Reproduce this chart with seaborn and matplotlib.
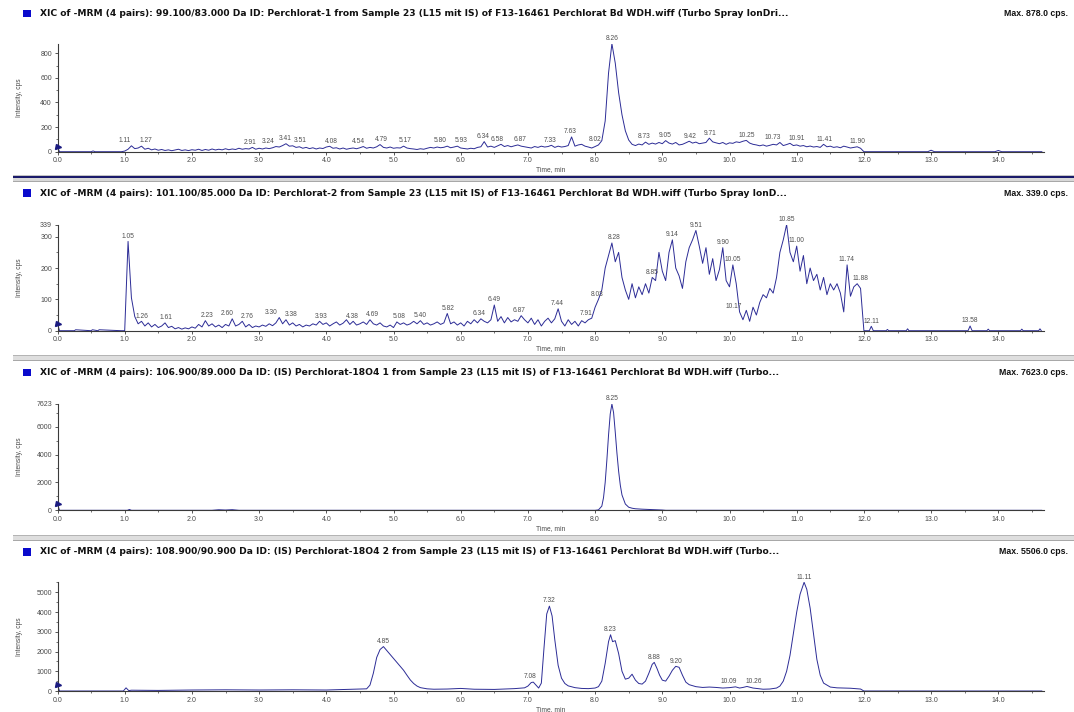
import numpy as np
import pandas as pd
import matplotlib
matplotlib.use("Agg")
import matplotlib.pyplot as plt
from matplotlib.patches import Rectangle
from matplotlib.ticker import FixedLocator, MultipleLocator
import seaborn as sns

# ---------------- data ----------------
titles = [
    "XIC of -MRM (4 pairs): 99.100/83.000 Da ID: Perchlorat-1 from Sample 23 (L15 mit IS) of F13-16461 Perchlorat Bd WDH.wiff (Turbo Spray IonDri...",
    "XIC of -MRM (4 pairs): 101.100/85.000 Da ID: Perchlorat-2 from Sample 23 (L15 mit IS) of F13-16461 Perchlorat Bd WDH.wiff (Turbo Spray IonD...",
    "XIC of -MRM (4 pairs): 106.900/89.000 Da ID: (IS) Perchlorat-18O4 1 from Sample 23 (L15 mit IS) of F13-16461 Perchlorat Bd WDH.wiff (Turbo...",
    "XIC of -MRM (4 pairs): 108.900/90.900 Da ID: (IS) Perchlorat-18O4 2 from Sample 23 (L15 mit IS) of F13-16461 Perchlorat Bd WDH.wiff (Turbo...",
]
max_texts = ["Max. 878.0 cps.", "Max. 339.0 cps.", "Max. 7623.0 cps.", "Max. 5506.0 cps."]
y_max = [878, 339, 7623, 5506]
y_ticks = [[0, 200, 400, 600, 800],
           [0, 100, 200, 300, 339],
           [0, 2000, 4000, 6000, 7623],
           [0, 1000, 2000, 3000, 4000, 5000]]
y_minor = [100, 50, 1000, 500]
x_ticks = [0.0, 1.0, 2.0, 3.0, 4.0, 5.0, 6.0, 7.0, 8.0, 9.0, 10.0, 11.0, 12.0, 13.0, 14.0]

# Panel 1: 99.1/83.0 -- readings every 0.05 min from 1.00 to 12.00
p1_pre_t = [0.0, 0.03, 0.50, 0.53, 0.56, 0.95]
p1_pre_v = [40, 0, 0, 6, 0, 0]
p1_grid_start, p1_grid_step = 1.00, 0.05
p1_grid_v = [
    5, 20, 48, 25, 30, 45, 20, 28, 15, 22, 12, 18, 10, 15, 8, 14, 20, 10, 15, 9,          # 1.xx
    16, 12, 20, 10, 18, 12, 22, 14, 20, 15, 24, 16, 22, 18, 28, 20, 25, 22, 35, 20,       # 2.xx
    28, 22, 30, 25, 32, 42, 38, 50, 65, 45, 48, 35, 40, 28, 35, 25, 32, 22, 30, 26,       # 3.xx
    38, 44, 28, 32, 22, 30, 20, 26, 30, 24, 32, 42, 28, 35, 30, 40, 58, 35, 30, 38,       # 4.xx
    28, 32, 30, 45, 30, 25, 22, 18, 24, 20, 28, 35, 30, 38, 32, 36, 45, 32, 38, 45,       # 5.xx
    30, 26, 22, 28, 24, 35, 40, 82, 38, 45, 35, 48, 60, 42, 50, 40, 48, 55, 45, 40,       # 6.xx
    35, 30, 42, 35, 45, 38, 42, 52, 35, 45, 38, 42, 50, 120, 45, 55, 60, 45, 38, 30,      # 7.xx
    42, 55, 90, 250, 640, 878, 720, 480, 300, 170, 95, 60, 50, 62, 55, 78, 60, 70, 62, 75,  # 8.xx
    65, 90, 70, 62, 75, 55, 60, 72, 85, 70, 78, 65, 70, 75, 110, 80, 72, 65, 75, 60,      # 9.xx
    72, 68, 80, 75, 85, 92, 70, 60, 55, 48, 55, 45, 52, 60, 55, 75, 50, 58, 68, 50,       # 10.xx
    55, 45, 50, 40, 46, 38, 42, 35, 60, 40, 45, 35, 40, 32, 45, 38, 30, 35, 40, 28,       # 11.xx
    0,                                                                                    # 12.00
]
p1_post_t = [12.05, 12.95, 13.0, 13.05, 13.95, 14.0, 14.05, 14.65]
p1_post_v = [0, 0, 12, 0, 0, 10, 0, 0]
p1_labels = ["1.11", "1.27", "2.91", "3.24", "3.41", "3.51", "4.08", "4.54", "4.79", "5.17",
             "5.80", "5.93", "6.34", "6.58", "6.87", "7.33", "7.63", "8.02", "8.26", "8.73",
             "9.05", "9.42", "9.71", "10.25", "10.73", "10.91", "11.41", "11.90"]

# Panel 2: 101.1/85.0
p2_pre_t = [0.0, 0.03, 0.25, 0.27, 0.50, 0.52, 0.60, 0.62, 0.95]
p2_pre_v = [22, 0, 0, 3, 0, 3, 0, 3, 0]
p2_grid_start, p2_grid_step = 1.00, 0.05
p2_grid_v = [
    0, 285, 105, 45, 22, 30, 15, 25, 12, 20, 10, 15, 25, 10, 14, 6, 10, 5, 9, 6,          # 1.xx
    12, 8, 20, 12, 32, 15, 22, 12, 18, 10, 20, 15, 38, 15, 20, 30, 12, 20, 10, 15,        # 2.xx
    12, 18, 14, 22, 16, 25, 42, 22, 35, 18, 25, 15, 20, 12, 18, 15, 22, 18, 30, 20,       # 3.xx
    25, 15, 22, 28, 18, 24, 35, 20, 30, 18, 22, 28, 20, 35, 22, 18, 25, 15, 12, 18,       # 4.xx
    10, 28, 20, 25, 18, 22, 30, 22, 32, 20, 25, 18, 22, 28, 20, 25, 55, 22, 28, 18,       # 5.xx
    25, 15, 30, 22, 35, 25, 38, 30, 25, 35, 82, 30, 45, 25, 42, 28, 35, 30, 48, 35,       # 6.xx
    25, 40, 20, 35, 15, 30, 40, 25, 38, 70, 30, 15, 35, 20, 30, 15, 32, 25, 35, 40,       # 7.xx
    75, 100, 130, 200, 240, 280, 220, 250, 170, 130, 100, 150, 105, 140, 115, 150, 120, 170, 160, 250,  # 8.xx
    190, 160, 250, 290, 200, 175, 135, 220, 265, 290, 320, 270, 215, 265, 180, 230, 160, 195, 265, 160,  # 9.xx
    140, 210, 150, 60, 35, 65, 30, 75, 50, 90, 115, 105, 135, 120, 170, 250, 290, 339, 250, 220,  # 10.xx
    270, 190, 240, 150, 200, 160, 180, 130, 170, 115, 150, 130, 150, 120, 60, 210, 110, 140, 150, 135,  # 11.xx
    0,                                                                                    # 12.00
]
p2_post_t = [12.05, 12.08, 12.11, 12.14, 12.33, 12.35, 12.37, 12.63, 12.65, 12.67, 13.55,
             13.58, 13.61, 13.83, 13.85, 13.87, 14.33, 14.35, 14.37, 14.60, 14.62, 14.64]
p2_post_v = [0, 0, 14, 0, 0, 4, 0, 0, 6, 0, 0,
             15, 0, 0, 5, 0, 0, 5, 0, 0, 6, 0]
p2_labels = ["1.05", "1.26", "1.61", "2.23", "2.60", "2.76", "3.30", "3.38", "3.93", "4.38",
             "4.69", "5.08", "5.40", "5.82", "6.34", "6.49", "6.87", "7.44", "7.91", "8.03",
             "8.28", "8.85", "9.14", "9.51", "9.90", "10.05", "10.17", "10.85", "11.00",
             "11.74", "11.88", "12.11", "13.58"]

# Panel 3: 106.9/89.0 (IS 1)
p3_t = [0.0, 0.03, 1.04, 1.07, 1.10, 2.30, 2.40, 2.50, 2.60, 2.70, 8.00, 8.05, 8.10, 8.125,
        8.15, 8.175, 8.20, 8.225, 8.25, 8.275, 8.30, 8.325, 8.35, 8.375, 8.40, 8.45, 8.50,
        8.55, 8.60, 8.70, 8.80, 8.90, 9.00, 9.05, 14.65]
p3_v = [450, 0, 0, 60, 0, 0, 40, 20, 45, 0, 0, 30, 300, 900,
        2000, 3600, 5400, 6900, 7623, 7000, 5600, 4100, 2800, 1800, 1100, 450, 220,
        150, 110, 80, 60, 40, 20, 0, 0]
p3_labels = ["8.25"]

# Panel 4: 108.9/90.9 (IS 2)
p4_t = [0.0, 0.03, 0.98, 1.02, 1.06, 1.10, 1.50, 2.00, 2.50, 3.00,
        3.50, 4.00, 4.30, 4.50, 4.60, 4.65, 4.70, 4.75, 4.80, 4.85,
        4.90, 4.95, 5.00, 5.05, 5.10, 5.15, 5.20, 5.25, 5.30, 5.35,
        5.40, 5.50, 5.60, 5.80, 6.00, 6.20, 6.50, 6.80, 6.95, 7.00,
        7.05, 7.08, 7.12, 7.16, 7.20, 7.24, 7.28, 7.32, 7.36, 7.40,
        7.45, 7.50, 7.55, 7.60, 7.70, 7.80, 7.90, 8.00, 8.05, 8.10,
        8.15, 8.20, 8.23, 8.26, 8.30, 8.35, 8.40, 8.45, 8.50, 8.55,
        8.60, 8.65, 8.70, 8.75, 8.80, 8.85, 8.88, 8.92, 8.96, 9.00,
        9.05, 9.10, 9.15, 9.20, 9.25, 9.30, 9.35, 9.40, 9.50, 9.60,
        9.70, 9.80, 9.90, 10.00, 10.09, 10.15, 10.20, 10.26, 10.35, 10.50,
        10.60, 10.70, 10.75, 10.80, 10.85, 10.90, 10.95, 11.00, 11.05, 11.11,
        11.15, 11.20, 11.25, 11.30, 11.35, 11.40, 11.50, 11.60, 11.80, 11.95,
        12.00, 14.65]
p4_v = [300, 0, 0, 160, 20, 40, 30, 50, 60, 50,
        60, 50, 80, 100, 110, 300, 900, 1700, 2100, 2250,
        2050, 1850, 1650, 1450, 1250, 1050, 800, 560, 380, 250,
        170, 110, 90, 100, 130, 90, 80, 120, 160, 250,
        430, 450, 300, 150, 400, 2200, 3900, 4300, 3800, 2600,
        1300, 650, 380, 260, 170, 130, 120, 150, 220, 500,
        1400, 2500, 2850, 2500, 2550, 1900, 1000, 600, 650, 850,
        550, 380, 350, 500, 900, 1350, 1450, 1150, 800, 550,
        500, 750, 1050, 1250, 1200, 800, 450, 320, 220, 180,
        200, 180, 150, 170, 210, 150, 180, 230, 150, 90,
        100, 150, 250, 500, 1000, 1800, 2900, 4000, 4900, 5506,
        5150, 4200, 2900, 1600, 800, 400, 200, 160, 140, 100,
        0, 0]
p4_labels = ["4.85", "7.08", "7.32", "8.23", "8.88", "9.20", "10.09", "10.26", "11.11"]


def assemble(pre_t, pre_v, start, step, grid_v, post_t, post_v):
    grid_t = list(np.round(start + step * np.arange(len(grid_v)), 3))
    t = list(pre_t) + grid_t + list(post_t)
    v = list(pre_v) + list(grid_v) + list(post_v)
    return pd.DataFrame({"time": t, "cps": v})


frames = [
    assemble(p1_pre_t, p1_pre_v, p1_grid_start, p1_grid_step, p1_grid_v, p1_post_t, p1_post_v),
    assemble(p2_pre_t, p2_pre_v, p2_grid_start, p2_grid_step, p2_grid_v, p2_post_t, p2_post_v),
    pd.DataFrame({"time": p3_t, "cps": p3_v}),
    pd.DataFrame({"time": p4_t, "cps": p4_v}),
]
labels = [p1_labels, p2_labels, p3_labels, p4_labels]

# horizontal nudges (points) for crowded peak labels, per panel
label_dx = [
    {"1.11": -5, "1.27": 2, "2.91": -2, "3.24": -5, "3.41": -1, "3.51": 5, "4.54": -3,
     "4.79": 1.5, "5.80": -5, "5.93": 4, "6.58": -1.5, "6.87": 1, "10.73": -4.5, "10.91": 4.5,
     "8.02": -1},
    {"2.60": -3.5, "2.76": 3, "3.30": -6, "3.38": 5, "6.34": -3, "7.91": -2,
     "10.17": -5, "11.88": 3},
    {},
    {"10.09": -5, "10.26": 5, "7.08": -2},
]

# ---------------- style ----------------
sns.set_style("ticks")
plt.rcParams['font.family'] = ['Liberation Sans', 'DejaVu Sans']

W, H = 1074, 712
fig = plt.figure(figsize=(W / 100, H / 100), dpi=100)
fig.patch.set_facecolor("white")

LINE = "#2c2c96"
AXC = "#3a3a3a"
TXT = "#4a4a4a"

ax_left, ax_right = 57.5, 1044.0
panel_tops = [43.7, 224.5, 404.0, 582.3]
panel_bottoms = [151.7, 330.7, 510.3, 691.0]
title_y = [13.5, 193.0, 372.5, 552.0]
x_max = 14.68


def fx(px):
    return px / W


def fy(py):
    return 1 - py / H


def band(y_top, height, color):
    fig.add_artist(Rectangle((fx(13), fy(y_top + height)), fx(W - 13), height / H,
                             transform=fig.transFigure, facecolor=color, edgecolor="none"))


# separators between panels
band(174.8, 1.0, "#c4c4c4")
band(175.8, 2.4, "#1a1a6a")
band(178.2, 3.2, "#d8d8d8")
band(181.4, 1.0, "#a8a8a8")
for ys in (355.0, 535.0):
    band(ys, 1.0, "#b4b4b4")
    band(ys + 1.0, 3.8, "#dedede")
    band(ys + 4.8, 1.0, "#a8a8a8")

for i in range(4):
    top, bot = panel_tops[i], panel_bottoms[i]
    ax = fig.add_axes([fx(ax_left), fy(bot), fx(ax_right - ax_left), (bot - top) / H])
    df = frames[i]
    sns.lineplot(data=df, x="time", y="cps", ax=ax, color=LINE, linewidth=0.7,
                 estimator=None, sort=False)
    ax.plot(df["time"].iloc[:1], df["cps"].iloc[:1], marker=">", ms=3.6, color="#1a1a80",
            linestyle="none", clip_on=False, zorder=5)

    ax.set_xlim(0, x_max)
    ax.set_ylim(0, y_max[i])
    ax.set_facecolor("white")
    for s in ["top", "right"]:
        ax.spines[s].set_visible(False)
    for s in ["left", "bottom"]:
        ax.spines[s].set_color(AXC)
        ax.spines[s].set_linewidth(0.8)

    ax.xaxis.set_major_locator(FixedLocator(x_ticks))
    ax.set_xticklabels([f"{x:.1f}" for x in x_ticks])
    ax.xaxis.set_minor_locator(MultipleLocator(0.5))
    ax.yaxis.set_major_locator(FixedLocator(y_ticks[i]))
    ax.set_yticklabels([str(v) for v in y_ticks[i]])
    ax.yaxis.set_minor_locator(MultipleLocator(y_minor[i]))
    ax.tick_params(axis="both", which="major", direction="out", length=2.5, width=0.6,
                   color=AXC, labelsize=5, labelcolor=TXT, pad=1.5)
    ax.tick_params(axis="both", which="minor", direction="out", length=1.3, width=0.5, color=AXC)

    ax.set_xlabel("Time, min", fontsize=4.8, color=TXT, labelpad=1.5)
    ax.set_ylabel("Intensity, cps", fontsize=4.8, color=TXT)
    ax.yaxis.set_label_coords((23 - ax_left) / (ax_right - ax_left), 0.5)

    # peak labels, placed above the local apex
    t_arr = df["time"].to_numpy()
    v_arr = df["cps"].to_numpy()
    for lab in labels[i]:
        tl = float(lab)
        m = (t_arr >= tl - 0.05) & (t_arr <= tl + 0.05)
        ymax = v_arr[m].max() if m.any() else 0
        dx = label_dx[i].get(lab, 0)
        ax.annotate(lab, xy=(tl, ymax), xytext=(dx, 1.2), textcoords="offset points",
                    ha="center", va="bottom", fontsize=4.8, color="#505050",
                    annotation_clip=False)

    # header
    yc = title_y[i]
    fig.add_artist(Rectangle((fx(23), fy(yc + 3.8)), 8 / W, 7.5 / H,
                             transform=fig.transFigure, facecolor="#0a0acc", edgecolor="none"))
    fig.text(fx(40), fy(yc), titles[i], fontsize=6.6, fontweight="bold", color="#111111",
             ha="left", va="center", family="DejaVu Sans")
    fig.text(fx(1068), fy(yc), max_texts[i], fontsize=6.3, fontweight="bold", color="#111111",
             ha="right", va="center")

fig.savefig("out.png", dpi=100, facecolor="white")
